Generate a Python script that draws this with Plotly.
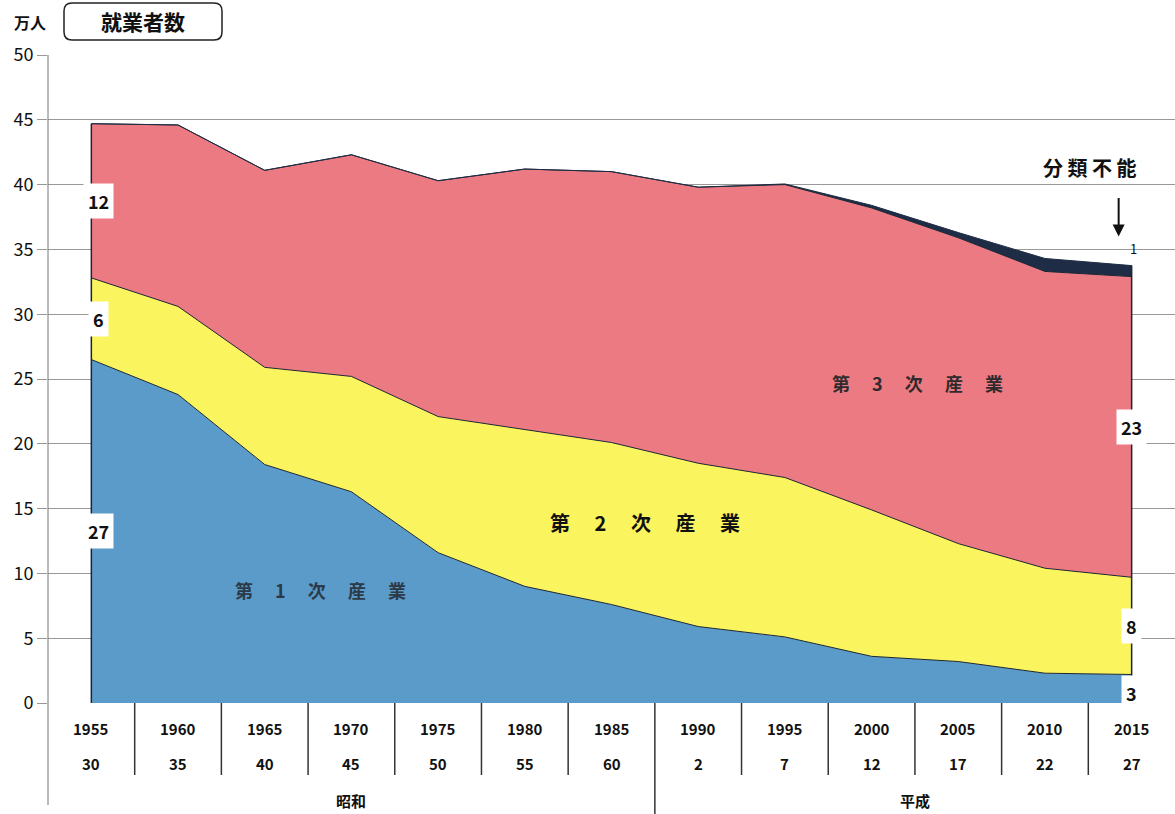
import plotly.graph_objects as go

years = ["1955", "1960", "1965", "1970", "1975", "1980", "1985", "1990", "1995", "2000", "2005", "2010", "2015"]
jp_years = ["30", "35", "40", "45", "50", "55", "60", "2", "7", "12", "17", "22", "27"]
eras = ["昭和", "平成"]
era_span = [(0, 6), (7, 12)]

primary = [26.5, 23.8, 18.4, 16.3, 11.6, 9.0, 7.6, 5.9, 5.1, 3.6, 3.2, 2.3, 2.2]
secondary = [6.3, 6.8, 7.5, 8.9, 10.5, 12.1, 12.5, 12.6, 12.3, 11.3, 9.1, 8.1, 7.5]
tertiary = [11.9, 14.0, 15.2, 17.1, 18.2, 20.1, 20.9, 21.3, 22.6, 23.3, 23.6, 22.9, 23.2]
unknown = [0.0, 0.0, 0.0, 0.0, 0.0, 0.0, 0.0, 0.0, 0.05, 0.2, 0.4, 1.0, 0.85]

left_labels = ["27", "6", "12"]
right_labels = ["3", "8", "23", "1"]

FONT = "Noto Sans CJK JP, Noto Sans, sans-serif"
W, H = 1175, 814
L, T, B = 48, 55, 111
PW, PH = W - L, H - T - B
x = list(range(len(years)))
edge = "#1c2633"


def px(xp):
    return (xp - L) / PW


def py(yp):
    return (H - B - yp) / PH


fig = go.Figure()
series = [
    ("第1次産業", primary, "#5b9bc9"),
    ("第2次産業", secondary, "#faf45e"),
    ("第3次産業", tertiary, "#ec7a83"),
    ("分類不能", unknown, "#1e2d45"),
]
for name, vals, col in series:
    fig.add_trace(go.Scatter(x=x, y=vals, name=name, stackgroup="one", mode="lines",
                             line=dict(color=edge if name != "分類不能" else "#1e2d45", width=1),
                             fillcolor=col, hoverinfo="skip"))

totals = [p + s + t + u for p, s, t, u in zip(primary, secondary, tertiary, unknown)]
for i in (0, len(x) - 1):
    fig.add_trace(go.Scatter(x=[x[i], x[i]], y=[0, totals[i]], mode="lines",
                             line=dict(color=edge, width=1.5), hoverinfo="skip", showlegend=False))

ann = []


def mids(i):
    p, s, t = primary[i], secondary[i], tertiary[i]
    return [p / 2, p + s / 2, p + s + t / 2]


lab_font = dict(size=18, color="#111", family=FONT, weight="bold")
for lab, yv in zip(left_labels, mids(0)):
    ann.append(dict(x=0.08, y=yv, xref="x", yref="y", text=lab, showarrow=False,
                    xanchor="center", yanchor="middle", bgcolor="white", borderpad=4, font=lab_font))
rm = mids(12)
for lab, yv in zip(right_labels[:3], [rm[0] - 0.3, rm[1], rm[2]]):
    ann.append(dict(x=12.0, y=yv, xref="x", yref="y", text=lab, showarrow=False,
                    xanchor="center", yanchor="middle", bgcolor="white", borderpad=4, font=lab_font))
ann.append(dict(x=12.02, y=totals[12] + 1.3, xref="x", yref="y", text=right_labels[3], showarrow=False,
                xanchor="center", yanchor="middle", font=dict(size=13, color="#111", family=FONT)))

sp = "\u3000 "
ann.append(dict(x=2.64, y=8.7, xref="x", yref="y", text=sp.join("第1次産業"), showarrow=False,
                xanchor="center", yanchor="middle",
                font=dict(size=18, color="#2c3a48", family=FONT, weight="bold")))
ann.append(dict(x=6.39, y=13.9, xref="x", yref="y", text=sp.join("第2次産業"), showarrow=False,
                xanchor="center", yanchor="middle",
                font=dict(size=20, color="#111", family=FONT, weight="bold")))
ann.append(dict(x=9.53, y=24.7, xref="x", yref="y", text=sp.join("第3次産業"), showarrow=False,
                xanchor="center", yanchor="middle",
                font=dict(size=18, color="#2f2a2c", family=FONT, weight="bold")))

ann.append(dict(x=11.85, y=36.0, xref="x", yref="y", text="", showarrow=True, ax=0, ay=-40,
                arrowhead=2, arrowsize=1.2, arrowwidth=2, arrowcolor="#111"))
ann.append(dict(x=px(1090), y=py(167), xref="paper", yref="paper", text="分 類 不 能", showarrow=False,
                xanchor="center", yanchor="middle",
                font=dict(size=20, color="#111", family=FONT, weight="bold")))

xl_font = dict(size=15, color="#111", family=FONT, weight="bold")
for i in x:
    ann.append(dict(x=i, y=py(728), xref="x", yref="paper", text=years[i], showarrow=False,
                    xanchor="center", yanchor="middle", font=xl_font))
    ann.append(dict(x=i, y=py(763), xref="x", yref="paper", text=jp_years[i], showarrow=False,
                    xanchor="center", yanchor="middle", font=xl_font))
for era, (a, b) in zip(eras, era_span):
    ann.append(dict(x=(a + b) / 2, y=py(800), xref="x", yref="paper", text=era, showarrow=False,
                    xanchor="center", yanchor="middle", font=xl_font))

ann.append(dict(x=px(30), y=py(22), xref="paper", yref="paper", text="万人", showarrow=False,
                xanchor="center", yanchor="middle",
                font=dict(size=16, color="#111", family=FONT, weight="bold")))
ann.append(dict(x=px(143), y=py(21), xref="paper", yref="paper", text="就業者数", showarrow=False,
                xanchor="center", yanchor="middle",
                font=dict(size=21, color="#111", family=FONT, weight="bold")))

shapes = []
for i in range(len(x) - 1):
    bottom = py(814) if i == 6 else py(775)
    shapes.append(dict(type="line", xref="x", yref="paper", x0=i + 0.5, x1=i + 0.5, y0=0, y1=bottom,
                       line=dict(color="#333", width=1.5)))
shapes.append(dict(type="line", xref="paper", yref="paper", x0=0, x1=0, y0=py(805), y1=1,
                   line=dict(color="#777", width=1)))
x0, x1 = px(64), px(222)
y0, y1 = py(40), py(3)
rx, ry = 8 / PW, 8 / PH
path = (f"M {x0+rx},{y0} L {x1-rx},{y0} Q {x1},{y0} {x1},{y0+ry} L {x1},{y1-ry} Q {x1},{y1} {x1-rx},{y1} "
        f"L {x0+rx},{y1} Q {x0},{y1} {x0},{y1-ry} L {x0},{y0+ry} Q {x0},{y0} {x0+rx},{y0} Z")
shapes.append(dict(type="path", xref="paper", yref="paper", path=path, line=dict(color="#222", width=1.5),
                   fillcolor="rgba(0,0,0,0)", layer="below"))

fig.update_layout(
    width=W, height=H,
    margin=dict(l=L, r=0, t=T, b=B, autoexpand=False),
    paper_bgcolor="white", plot_bgcolor="white",
    showlegend=False,
    annotations=ann, shapes=shapes,
    xaxis=dict(range=[-0.5, 12.5], showticklabels=False, showgrid=False, zeroline=False, ticks="",
               automargin=False),
    yaxis=dict(range=[0, 50], dtick=5, showgrid=True, gridcolor="#999", gridwidth=1, zeroline=False,
               ticks="outside", ticklen=10, tickcolor="#999", automargin=False,
               tickfont=dict(size=18, color="#111", family=FONT), layer="below traces"),
)
fig.write_html("out.html", config={"displayModeBar": False},
               post_script="document.body.style.margin='0';document.body.style.overflow='hidden';")
